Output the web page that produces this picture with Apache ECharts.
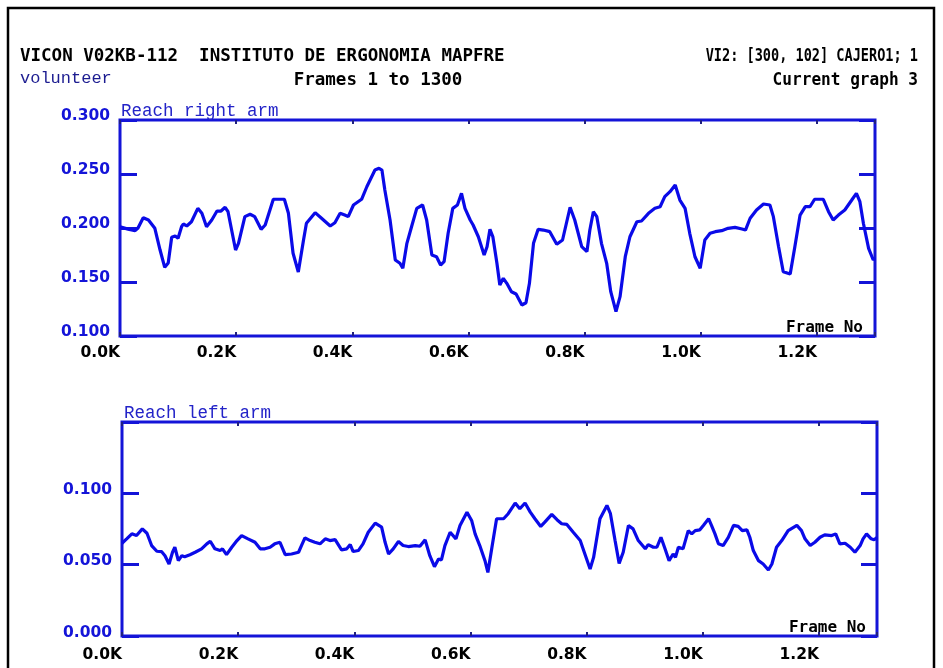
<!DOCTYPE html>
<html>
<head>
<meta charset="utf-8">
<script src="https://cdn.jsdelivr.net/npm/echarts@6/dist/echarts.min.js"></script>
<style>html,body{margin:0;padding:0;background:#fff;}#c{width:943px;height:668px;}</style>
</head>
<body>
<div id="c"></div>
<script>
// Frame number vs reach (right arm)
var rightArm = [[0,0.201],[14,0.199],[26,0.1975],[31,0.200],[40,0.2095],[49,0.2074],[60,0.1997],[69,0.1796],[77,0.1636],[83,0.1676],[89,0.1914],[95,0.1926],[100,0.1905],[106,0.2012],[109,0.2037],[115,0.2019],[123,0.2058],[134,0.2182],[141,0.2136],[149,0.2012],[158,0.2074],[167,0.2157],[174,0.2157],[181,0.2192],[186,0.2151],[199,0.1796],[204,0.1858],[215,0.2105],[224,0.2127],[232,0.2105],[243,0.1988],[250,0.2028],[264,0.2266],[283,0.2266],[290,0.2136],[298,0.1766],[307,0.1593],[316,0.1889],[321,0.2044],[336,0.2142],[347,0.2090],[362,0.2019],[370,0.2049],[379,0.2136],[387,0.2120],[393,0.2105],[402,0.2213],[416,0.2266],[425,0.2382],[439,0.2537],[446,0.2553],[451,0.2537],[456,0.2352],[465,0.2074],[474,0.1704],[482,0.1673],[487,0.1627],[494,0.1858],[502,0.2012],[511,0.2182],[521,0.2213],[528,0.2074],[537,0.1750],[545,0.1734],[552,0.1657],[558,0.1688],[565,0.1951],[573,0.2182],[581,0.2213],[588,0.2321],[594,0.2182],[603,0.2074],[608,0.2028],[617,0.1919],[627,0.1750],[632,0.1827],[637,0.1988],[642,0.1919],[649,0.1673],[654,0.1472],[660,0.1534],[666,0.1488],[674,0.1410],[682,0.1389],[692,0.1287],[699,0.1308],[705,0.1488],[712,0.1858],[720,0.1988],[729,0.1981],[740,0.1966],[752,0.1849],[762,0.1889],[775,0.2192],[783,0.2074],[795,0.1827],[804,0.1781],[809,0.1981],[815,0.2151],[821,0.2105],[829,0.1858],[838,0.1673],[845,0.1410],[854,0.1225],[861,0.1364],[870,0.1734],[878,0.1919],[890,0.2058],[898,0.2065],[910,0.2136],[921,0.2182],[930,0.2197],[938,0.2290],[947,0.2336],[956,0.2398],[964,0.2259],[973,0.2182],[981,0.1951],[990,0.1734],[999,0.1627],[1007,0.1889],[1016,0.1951],[1025,0.1966],[1036,0.1975],[1047,0.1997],[1059,0.2006],[1071,0.1991],[1077,0.1981],[1085,0.2090],[1096,0.2167],[1108,0.2222],[1119,0.2213],[1125,0.2105],[1134,0.1827],[1142,0.1595],[1154,0.1574],[1162,0.1827],[1171,0.2120],[1180,0.2197],[1188,0.2197],[1196,0.2266],[1211,0.2266],[1220,0.2151],[1228,0.2074],[1237,0.2120],[1248,0.2167],[1260,0.2259],[1268,0.2321],[1274,0.2244],[1280,0.2044],[1289,0.1812],[1297,0.1704],[1300,0.1722]];

// Frame number vs reach (left arm)
var leftArm = [[0,0.0650],[8,0.0681],[17,0.0716],[25,0.0704],[28,0.0692],[35,0.0751],[43,0.0720],[51,0.0634],[60,0.0594],[68,0.0592],[74,0.0563],[81,0.0505],[87,0.0587],[91,0.0622],[97,0.0528],[103,0.0563],[108,0.0556],[117,0.0570],[126,0.0587],[137,0.0611],[146,0.0646],[152,0.0664],[160,0.0611],[169,0.0599],[173,0.0611],[180,0.0570],[189,0.0622],[198,0.0669],[206,0.0704],[217,0.0681],[229,0.0657],[238,0.0611],[246,0.0611],[255,0.0622],[263,0.0646],[272,0.0657],[281,0.0570],[292,0.0575],[304,0.0587],[309,0.0634],[315,0.0688],[324,0.0669],[332,0.0657],[341,0.0646],[350,0.0681],[358,0.0669],[367,0.0676],[378,0.0604],[387,0.0611],[393,0.0641],[398,0.0592],[407,0.0599],[415,0.0646],[424,0.0727],[436,0.0791],[439,0.0794],[447,0.0763],[453,0.0657],[459,0.0575],[467,0.0611],[476,0.0662],[484,0.0634],[493,0.0627],[505,0.0634],[513,0.0629],[522,0.0674],[530,0.0563],[538,0.0486],[545,0.0540],[550,0.0533],[556,0.0634],[565,0.0727],[575,0.0681],[582,0.0775],[594,0.0868],[602,0.0810],[608,0.0716],[616,0.0634],[625,0.0528],[630,0.0446],[637,0.0622],[645,0.0822],[657,0.0822],[665,0.0857],[677,0.0932],[685,0.0892],[694,0.0932],[703,0.0868],[711,0.0822],[721,0.0768],[728,0.0798],[740,0.0852],[749,0.0815],[757,0.0787],[766,0.0782],[777,0.0727],[789,0.0669],[797,0.0575],[806,0.0470],[812,0.0551],[823,0.0822],[835,0.0915],[841,0.0857],[849,0.0669],[856,0.0509],[863,0.0587],[872,0.0775],[880,0.0751],[889,0.0669],[901,0.0611],[906,0.0641],[915,0.0622],[921,0.0622],[928,0.0692],[935,0.0611],[942,0.0528],[949,0.0575],[953,0.0551],[958,0.0622],[966,0.0611],[975,0.0739],[981,0.0716],[987,0.0739],[995,0.0744],[1001,0.0775],[1010,0.0822],[1015,0.0775],[1021,0.0716],[1027,0.0646],[1035,0.0634],[1044,0.0692],[1053,0.0775],[1061,0.0768],[1068,0.0739],[1076,0.0744],[1081,0.0692],[1087,0.0599],[1096,0.0528],[1104,0.0505],[1113,0.0463],[1119,0.0505],[1127,0.0622],[1136,0.0669],[1147,0.0739],[1162,0.0775],[1170,0.0739],[1176,0.0681],[1185,0.0634],[1193,0.0657],[1202,0.0692],[1210,0.0709],[1222,0.0704],[1229,0.0716],[1236,0.0646],[1245,0.0650],[1254,0.0622],[1262,0.0587],[1271,0.0634],[1276,0.0681],[1282,0.0716],[1290,0.0681],[1295,0.0674],[1300,0.0690]];

var frameRange = [0, 1300];
var frameStep = 200;
var rightRange = [0.10, 0.30];
var leftRange = [0.00, 0.15];
var valueStep = 0.05;

var BLUE = '#1414d8';
var LINE = '#0a0ae8';

var chart = echarts.init(document.getElementById('c'), null, {renderer: 'canvas'});

function xFmt(v) { return v > 1250 ? '' : (v / 1000).toFixed(1) + 'K'; }

function xAxes(gi, margin) {
  return [{
    type: 'value', gridIndex: gi, position: 'bottom', min: frameRange[0], max: frameRange[1], interval: frameStep,
    axisLine: {show: false, onZero: false}, splitLine: {show: false},
    axisTick: {show: true, inside: true, length: 4, lineStyle: {color: '#202080', width: 2}},
    axisLabel: {show: true, formatter: xFmt, align: 'right', margin: margin, color: '#000',
      fontFamily: 'DejaVu Sans', fontWeight: 'bold', fontSize: 15.5}
  }, {
    type: 'value', gridIndex: gi, position: 'top', min: frameRange[0], max: frameRange[1], interval: frameStep,
    axisLine: {show: false, onZero: false}, splitLine: {show: false},
    axisTick: {show: true, inside: true, length: 4, lineStyle: {color: '#202080', width: 2}},
    axisLabel: {show: false}
  }];
}
function yAxes(gi, range, hideAbove, lh) {
  return [{
    type: 'value', gridIndex: gi, position: 'left', min: range[0], max: range[1], interval: valueStep,
    axisLine: {show: false, onZero: false}, splitLine: {show: false},
    axisTick: {show: true, inside: true, length: 17, lineStyle: {color: BLUE, width: 3}},
    axisLabel: {show: true, margin: 10, color: BLUE, fontFamily: 'DejaVu Sans', fontWeight: 'bold', fontSize: 15.5,
      verticalAlign: 'bottom', lineHeight: lh,
      formatter: function (v) { return v > hideAbove ? '' : v.toFixed(3); }}
  }, {
    type: 'value', gridIndex: gi, position: 'right', min: range[0], max: range[1], interval: valueStep,
    axisLine: {show: false, onZero: false}, splitLine: {show: false},
    axisTick: {show: true, inside: true, length: 16, lineStyle: {color: BLUE, width: 3}},
    axisLabel: {show: false}
  }];
}

var monoB = 'DejaVu Sans Mono';
function txt(x, y, s, opt) {
  opt = opt || {};
  return {
    type: 'text', x: x, y: y, scaleX: opt.sx || 1, z: 10,
    style: {text: s, fill: opt.color || '#000', font: opt.font || ('bold 17.5px "' + monoB + '"'),
      textAlign: opt.align || 'left', textVerticalAlign: 'middle'}
  };
}

chart.setOption({
  animation: false,
  backgroundColor: '#fff',
  grid: [
    {left: 120, top: 120, width: 755, height: 216, show: true, borderColor: BLUE, borderWidth: 3, backgroundColor: 'transparent'},
    {left: 122, top: 422, width: 755, height: 214, show: true, borderColor: BLUE, borderWidth: 3, backgroundColor: 'transparent'}
  ],
  xAxis: xAxes(0, 9).concat(xAxes(1, 11)),
  yAxis: yAxes(0, rightRange, 1, 9).concat(yAxes(1, leftRange, 0.14, 7)),
  series: [
    {type: 'line', xAxisIndex: 0, yAxisIndex: 0, data: rightArm, showSymbol: false, symbol: 'none',
      lineStyle: {color: LINE, width: 3.2}, clip: true},
    {type: 'line', xAxisIndex: 2, yAxisIndex: 2, data: leftArm, showSymbol: false, symbol: 'none',
      lineStyle: {color: LINE, width: 3.2}, clip: true}
  ],
  graphic: [
    {type: 'rect', shape: {x: 8, y: 8, width: 926, height: 700}, style: {fill: 'none', stroke: '#000', lineWidth: 2.5}, z: 10},
    txt(20, 56, 'VICON V02KB-112  INSTITUTO DE ERGONOMIA MAPFRE'),
    txt(918, 56, 'VI2: [300, 102] CAJERO1; 1', {align: 'right', sx: 0.775}),
    txt(20, 78, 'volunteer', {color: '#1c1c90', font: '17px "Liberation Mono"'}),
    txt(378, 80, 'Frames 1 to 1300', {align: 'center'}),
    txt(918, 80, 'Current graph 3', {align: 'right', sx: 0.92}),
    txt(121, 111, 'Reach right arm', {color: '#2323c8', font: '17.5px "Liberation Mono"'}),
    txt(124, 413, 'Reach left arm', {color: '#2323c8', font: '17.5px "Liberation Mono"'}),
    txt(863, 328, 'Frame No', {align: 'right', font: 'bold 16px "DejaVu Sans Mono"'}),
    txt(866, 628, 'Frame No', {align: 'right', font: 'bold 16px "DejaVu Sans Mono"'})
  ]
});
</script>
</body>
</html>
